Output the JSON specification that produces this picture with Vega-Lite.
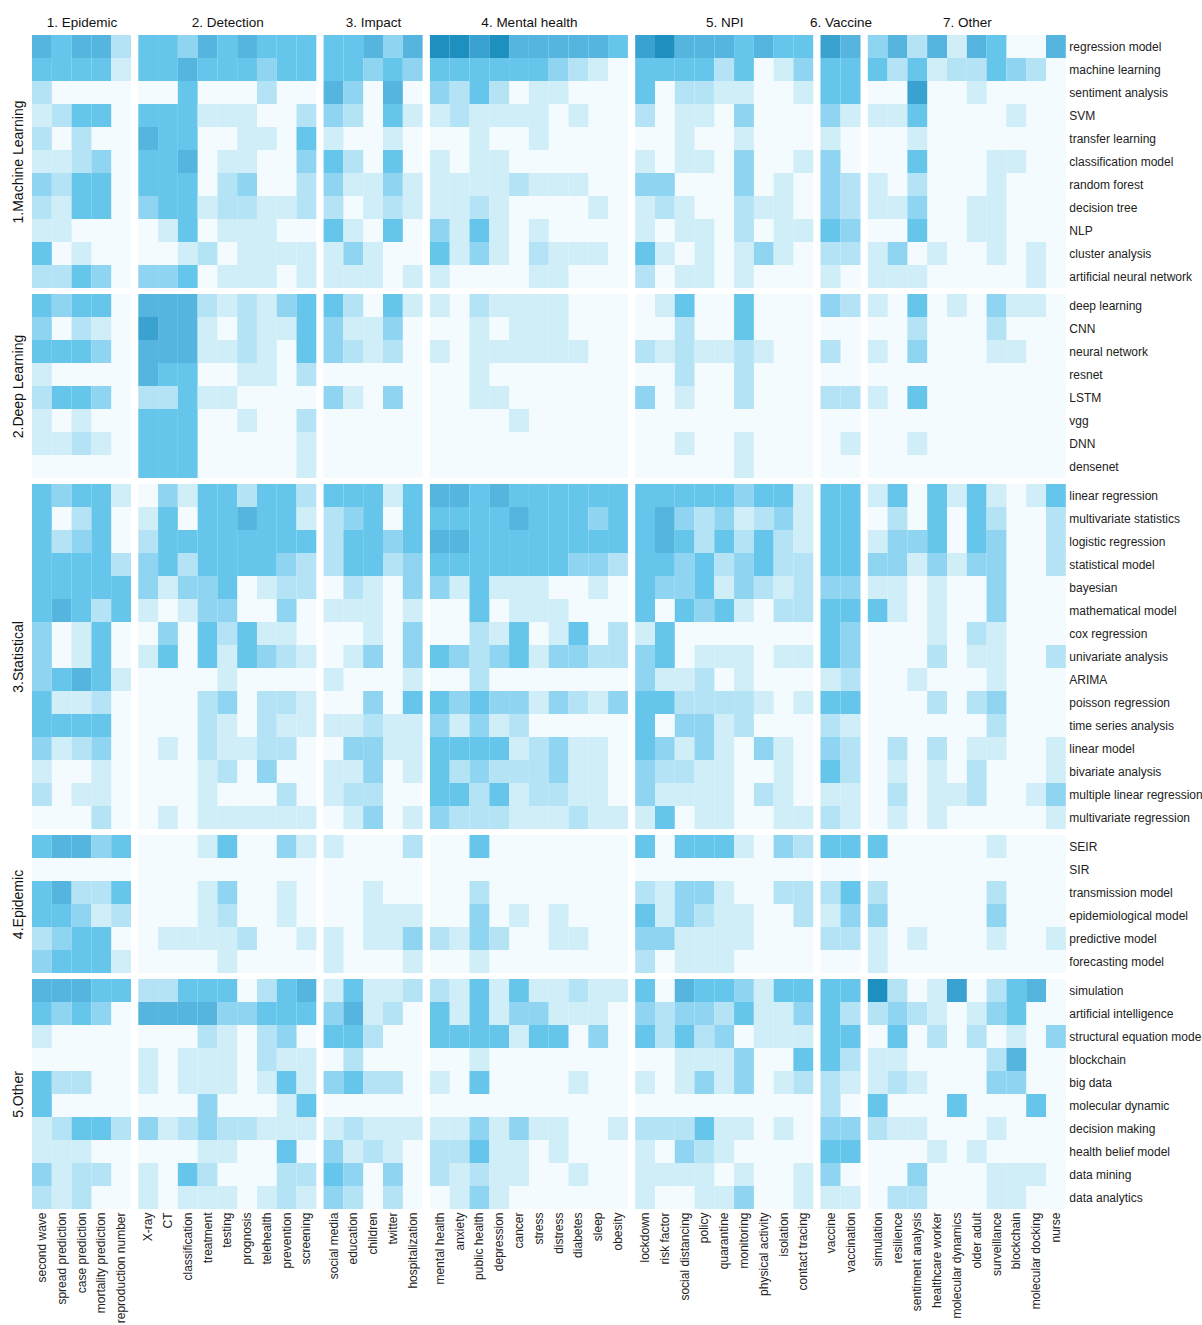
{"$schema":"https://vega.github.io/schema/vega-lite/v6.json","padding":{"left":11,"top":15,"right":0,"bottom":0},"background":"white","bounds":"flush","align":"each","columns":7,"spacing":{"row":6,"column":7.3},"config":{"view":{"fill":"#f3fbfe","stroke":null},"axis":{"domain":false,"ticks":false,"grid":false,"labelFont":"Liberation Sans","titleFont":"Liberation Sans","labelFontSize":12,"titleFontWeight":"normal","labelPadding":3,"labelColor":"#222","titleColor":"#111","labelLimit":200},"axisTop":{"titleFontSize":13.5,"titlePadding":6},"axisLeft":{"titleFontSize":14,"titlePadding":7},"legend":{"disable":true},"range":{"ordinal":["#cfeef8","#b5e3f6","#8fd4f0","#66c5ea","#55b5de","#3aa2d0","#1e90bf"]}},"datasets":{"models":[{"i":0,"model":"regression model","h":1},{"i":1,"model":"machine learning","h":1},{"i":2,"model":"sentiment analysis","h":1},{"i":3,"model":"SVM","h":1},{"i":4,"model":"transfer learning","h":1},{"i":5,"model":"classification model","h":1},{"i":6,"model":"random forest","h":1},{"i":7,"model":"decision tree","h":1},{"i":8,"model":"NLP","h":1},{"i":9,"model":"cluster analysis","h":1},{"i":10,"model":"artificial neural network","h":1},{"i":11,"model":"deep learning","h":2},{"i":12,"model":"CNN","h":2},{"i":13,"model":"neural network","h":2},{"i":14,"model":"resnet","h":2},{"i":15,"model":"LSTM","h":2},{"i":16,"model":"vgg","h":2},{"i":17,"model":"DNN","h":2},{"i":18,"model":"densenet","h":2},{"i":19,"model":"linear regression","h":3},{"i":20,"model":"multivariate statistics","h":3},{"i":21,"model":"logistic regression","h":3},{"i":22,"model":"statistical model","h":3},{"i":23,"model":"bayesian","h":3},{"i":24,"model":"mathematical model","h":3},{"i":25,"model":"cox regression","h":3},{"i":26,"model":"univariate analysis","h":3},{"i":27,"model":"ARIMA","h":3},{"i":28,"model":"poisson regression","h":3},{"i":29,"model":"time series analysis","h":3},{"i":30,"model":"linear model","h":3},{"i":31,"model":"bivariate analysis","h":3},{"i":32,"model":"multiple linear regression","h":3},{"i":33,"model":"multivariate regression","h":3},{"i":34,"model":"SEIR","h":4},{"i":35,"model":"SIR","h":4},{"i":36,"model":"transmission model","h":4},{"i":37,"model":"epidemiological model","h":4},{"i":38,"model":"predictive model","h":4},{"i":39,"model":"forecasting model","h":4},{"i":40,"model":"simulation","h":5},{"i":41,"model":"artificial intelligence","h":5},{"i":42,"model":"structural equation model","h":5},{"i":43,"model":"blockchain","h":5},{"i":44,"model":"big data","h":5},{"i":45,"model":"molecular dynamic","h":5},{"i":46,"model":"decision making","h":5},{"i":47,"model":"health belief model","h":5},{"i":48,"model":"data mining","h":5},{"i":49,"model":"data analytics","h":5}],"terms":[{"j":0,"term":"second wave","g":1},{"j":1,"term":"spread prediction","g":1},{"j":2,"term":"case prediction","g":1},{"j":3,"term":"mortality prediction","g":1},{"j":4,"term":"reproduction number","g":1},{"j":5,"term":"X-ray","g":2},{"j":6,"term":"CT","g":2},{"j":7,"term":"classification","g":2},{"j":8,"term":"treatment","g":2},{"j":9,"term":"testing","g":2},{"j":10,"term":"prognosis","g":2},{"j":11,"term":"telehealth","g":2},{"j":12,"term":"prevention","g":2},{"j":13,"term":"screening","g":2},{"j":14,"term":"social media","g":3},{"j":15,"term":"education","g":3},{"j":16,"term":"children","g":3},{"j":17,"term":"twitter","g":3},{"j":18,"term":"hospitalization","g":3},{"j":19,"term":"mental health","g":4},{"j":20,"term":"anxiety","g":4},{"j":21,"term":"public health","g":4},{"j":22,"term":"depression","g":4},{"j":23,"term":"cancer","g":4},{"j":24,"term":"stress","g":4},{"j":25,"term":"distress","g":4},{"j":26,"term":"diabetes","g":4},{"j":27,"term":"sleep","g":4},{"j":28,"term":"obesity","g":4},{"j":29,"term":"lockdown","g":5},{"j":30,"term":"risk factor","g":5},{"j":31,"term":"social distancing","g":5},{"j":32,"term":"policy","g":5},{"j":33,"term":"quarantine","g":5},{"j":34,"term":"monitoring","g":5},{"j":35,"term":"physical activity","g":5},{"j":36,"term":"isolation","g":5},{"j":37,"term":"contact tracing","g":5},{"j":38,"term":"vaccine","g":6},{"j":39,"term":"vaccination","g":6},{"j":40,"term":"simulation","g":7},{"j":41,"term":"resilience","g":7},{"j":42,"term":"sentiment analysis","g":7},{"j":43,"term":"healthcare worker","g":7},{"j":44,"term":"molecular dynamics","g":7},{"j":45,"term":"older adult","g":7},{"j":46,"term":"surveillance","g":7},{"j":47,"term":"blockchain","g":7},{"j":48,"term":"molecular docking","g":7},{"j":49,"term":"nurse","g":7}]},"data":{"values":[
{"i":0,"j":0,"v":5},{"i":0,"j":1,"v":4},{"i":0,"j":2,"v":5},{"i":0,"j":3,"v":5},{"i":0,"j":4,"v":2},{"i":0,"j":5,"v":4},{"i":0,"j":6,"v":4},{"i":0,"j":7,"v":3},{"i":0,"j":8,"v":5},{"i":0,"j":9,"v":4},{"i":0,"j":10,"v":5},{"i":0,"j":11,"v":4},{"i":0,"j":12,"v":4},{"i":0,"j":13,"v":4},{"i":0,"j":14,"v":4},{"i":0,"j":15,"v":4},{"i":0,"j":16,"v":5},{"i":0,"j":17,"v":3},{"i":0,"j":18,"v":5},{"i":0,"j":19,"v":7},{"i":0,"j":20,"v":7},{"i":0,"j":21,"v":6},{"i":0,"j":22,"v":7},{"i":0,"j":23,"v":5},{"i":0,"j":24,"v":5},{"i":0,"j":25,"v":5},{"i":0,"j":26,"v":5},{"i":0,"j":27,"v":5},{"i":0,"j":28,"v":4},{"i":0,"j":29,"v":6},{"i":0,"j":30,"v":7},{"i":0,"j":31,"v":5},{"i":0,"j":32,"v":5},{"i":0,"j":33,"v":5},{"i":0,"j":34,"v":4},{"i":0,"j":35,"v":5},{"i":0,"j":36,"v":4},{"i":0,"j":37,"v":4},{"i":0,"j":38,"v":6},{"i":0,"j":39,"v":5},{"i":0,"j":40,"v":3},{"i":0,"j":41,"v":5},{"i":0,"j":42,"v":2},{"i":0,"j":43,"v":5},{"i":0,"j":44,"v":1},{"i":0,"j":45,"v":5},{"i":0,"j":46,"v":4},{"i":0,"j":49,"v":5},
{"i":1,"j":0,"v":4},{"i":1,"j":1,"v":4},{"i":1,"j":2,"v":4},{"i":1,"j":3,"v":4},{"i":1,"j":4,"v":1},{"i":1,"j":5,"v":4},{"i":1,"j":6,"v":4},{"i":1,"j":7,"v":5},{"i":1,"j":8,"v":4},{"i":1,"j":9,"v":4},{"i":1,"j":10,"v":4},{"i":1,"j":11,"v":3},{"i":1,"j":12,"v":4},{"i":1,"j":13,"v":4},{"i":1,"j":14,"v":4},{"i":1,"j":15,"v":4},{"i":1,"j":16,"v":3},{"i":1,"j":17,"v":4},{"i":1,"j":18,"v":3},{"i":1,"j":19,"v":4},{"i":1,"j":20,"v":4},{"i":1,"j":21,"v":4},{"i":1,"j":22,"v":4},{"i":1,"j":23,"v":4},{"i":1,"j":24,"v":4},{"i":1,"j":25,"v":3},{"i":1,"j":26,"v":2},{"i":1,"j":27,"v":1},{"i":1,"j":29,"v":4},{"i":1,"j":30,"v":4},{"i":1,"j":31,"v":4},{"i":1,"j":32,"v":4},{"i":1,"j":33,"v":2},{"i":1,"j":34,"v":4},{"i":1,"j":36,"v":1},{"i":1,"j":37,"v":3},{"i":1,"j":38,"v":4},{"i":1,"j":39,"v":4},{"i":1,"j":40,"v":4},{"i":1,"j":41,"v":2},{"i":1,"j":42,"v":4},{"i":1,"j":43,"v":1},{"i":1,"j":44,"v":2},{"i":1,"j":45,"v":2},{"i":1,"j":46,"v":4},{"i":1,"j":47,"v":3},{"i":1,"j":48,"v":2},
{"i":2,"j":0,"v":2},{"i":2,"j":7,"v":4},{"i":2,"j":11,"v":2},{"i":2,"j":14,"v":5},{"i":2,"j":15,"v":3},{"i":2,"j":17,"v":5},{"i":2,"j":19,"v":3},{"i":2,"j":20,"v":2},{"i":2,"j":21,"v":4},{"i":2,"j":22,"v":2},{"i":2,"j":24,"v":1},{"i":2,"j":25,"v":1},{"i":2,"j":29,"v":4},{"i":2,"j":31,"v":2},{"i":2,"j":32,"v":2},{"i":2,"j":33,"v":1},{"i":2,"j":34,"v":1},{"i":2,"j":37,"v":1},{"i":2,"j":38,"v":4},{"i":2,"j":39,"v":4},{"i":2,"j":42,"v":6},{"i":2,"j":45,"v":1},
{"i":3,"j":0,"v":1},{"i":3,"j":1,"v":2},{"i":3,"j":2,"v":4},{"i":3,"j":3,"v":4},{"i":3,"j":5,"v":4},{"i":3,"j":6,"v":4},{"i":3,"j":7,"v":4},{"i":3,"j":8,"v":1},{"i":3,"j":9,"v":1},{"i":3,"j":10,"v":1},{"i":3,"j":13,"v":2},{"i":3,"j":14,"v":3},{"i":3,"j":15,"v":2},{"i":3,"j":17,"v":4},{"i":3,"j":18,"v":1},{"i":3,"j":19,"v":1},{"i":3,"j":20,"v":2},{"i":3,"j":21,"v":1},{"i":3,"j":22,"v":1},{"i":3,"j":23,"v":1},{"i":3,"j":24,"v":1},{"i":3,"j":26,"v":1},{"i":3,"j":29,"v":2},{"i":3,"j":31,"v":1},{"i":3,"j":32,"v":1},{"i":3,"j":34,"v":3},{"i":3,"j":38,"v":3},{"i":3,"j":39,"v":1},{"i":3,"j":40,"v":1},{"i":3,"j":41,"v":1},{"i":3,"j":42,"v":4},{"i":3,"j":47,"v":1},
{"i":4,"j":0,"v":2},{"i":4,"j":2,"v":2},{"i":4,"j":5,"v":5},{"i":4,"j":6,"v":4},{"i":4,"j":7,"v":4},{"i":4,"j":10,"v":1},{"i":4,"j":11,"v":1},{"i":4,"j":13,"v":4},{"i":4,"j":14,"v":1},{"i":4,"j":17,"v":1},{"i":4,"j":21,"v":1},{"i":4,"j":24,"v":1},{"i":4,"j":31,"v":1},{"i":4,"j":34,"v":1},{"i":4,"j":38,"v":1},{"i":4,"j":42,"v":1},
{"i":5,"j":0,"v":1},{"i":5,"j":1,"v":1},{"i":5,"j":2,"v":2},{"i":5,"j":3,"v":3},{"i":5,"j":5,"v":4},{"i":5,"j":6,"v":4},{"i":5,"j":7,"v":5},{"i":5,"j":9,"v":1},{"i":5,"j":10,"v":1},{"i":5,"j":13,"v":3},{"i":5,"j":14,"v":4},{"i":5,"j":15,"v":2},{"i":5,"j":17,"v":4},{"i":5,"j":19,"v":1},{"i":5,"j":21,"v":1},{"i":5,"j":22,"v":1},{"i":5,"j":29,"v":1},{"i":5,"j":31,"v":1},{"i":5,"j":32,"v":1},{"i":5,"j":34,"v":3},{"i":5,"j":37,"v":1},{"i":5,"j":38,"v":3},{"i":5,"j":42,"v":4},{"i":5,"j":46,"v":1},{"i":5,"j":47,"v":1},
{"i":6,"j":0,"v":3},{"i":6,"j":1,"v":2},{"i":6,"j":2,"v":4},{"i":6,"j":3,"v":4},{"i":6,"j":5,"v":4},{"i":6,"j":6,"v":4},{"i":6,"j":7,"v":4},{"i":6,"j":9,"v":2},{"i":6,"j":10,"v":3},{"i":6,"j":13,"v":2},{"i":6,"j":14,"v":3},{"i":6,"j":15,"v":1},{"i":6,"j":16,"v":1},{"i":6,"j":17,"v":3},{"i":6,"j":18,"v":1},{"i":6,"j":19,"v":1},{"i":6,"j":20,"v":1},{"i":6,"j":21,"v":1},{"i":6,"j":22,"v":1},{"i":6,"j":23,"v":2},{"i":6,"j":24,"v":1},{"i":6,"j":25,"v":1},{"i":6,"j":26,"v":1},{"i":6,"j":29,"v":3},{"i":6,"j":30,"v":3},{"i":6,"j":34,"v":3},{"i":6,"j":36,"v":1},{"i":6,"j":38,"v":3},{"i":6,"j":39,"v":2},{"i":6,"j":40,"v":1},{"i":6,"j":42,"v":2},{"i":6,"j":46,"v":1},
{"i":7,"j":0,"v":2},{"i":7,"j":1,"v":1},{"i":7,"j":2,"v":4},{"i":7,"j":3,"v":4},{"i":7,"j":5,"v":3},{"i":7,"j":6,"v":4},{"i":7,"j":7,"v":4},{"i":7,"j":8,"v":1},{"i":7,"j":9,"v":2},{"i":7,"j":10,"v":2},{"i":7,"j":11,"v":1},{"i":7,"j":12,"v":1},{"i":7,"j":13,"v":2},{"i":7,"j":14,"v":2},{"i":7,"j":16,"v":1},{"i":7,"j":17,"v":2},{"i":7,"j":18,"v":1},{"i":7,"j":19,"v":1},{"i":7,"j":20,"v":1},{"i":7,"j":21,"v":2},{"i":7,"j":22,"v":1},{"i":7,"j":27,"v":1},{"i":7,"j":29,"v":1},{"i":7,"j":30,"v":2},{"i":7,"j":31,"v":1},{"i":7,"j":34,"v":2},{"i":7,"j":35,"v":1},{"i":7,"j":36,"v":1},{"i":7,"j":38,"v":3},{"i":7,"j":39,"v":2},{"i":7,"j":40,"v":1},{"i":7,"j":41,"v":1},{"i":7,"j":42,"v":3},{"i":7,"j":45,"v":1},{"i":7,"j":46,"v":1},
{"i":8,"j":0,"v":1},{"i":8,"j":1,"v":1},{"i":8,"j":6,"v":1},{"i":8,"j":7,"v":4},{"i":8,"j":9,"v":1},{"i":8,"j":10,"v":1},{"i":8,"j":11,"v":1},{"i":8,"j":14,"v":4},{"i":8,"j":15,"v":1},{"i":8,"j":17,"v":4},{"i":8,"j":19,"v":3},{"i":8,"j":20,"v":1},{"i":8,"j":21,"v":4},{"i":8,"j":22,"v":1},{"i":8,"j":24,"v":1},{"i":8,"j":29,"v":1},{"i":8,"j":31,"v":1},{"i":8,"j":32,"v":1},{"i":8,"j":34,"v":2},{"i":8,"j":36,"v":1},{"i":8,"j":37,"v":1},{"i":8,"j":38,"v":4},{"i":8,"j":39,"v":3},{"i":8,"j":42,"v":4},{"i":8,"j":45,"v":1},{"i":8,"j":46,"v":1},
{"i":9,"j":0,"v":4},{"i":9,"j":2,"v":1},{"i":9,"j":7,"v":1},{"i":9,"j":8,"v":2},{"i":9,"j":10,"v":1},{"i":9,"j":11,"v":1},{"i":9,"j":12,"v":1},{"i":9,"j":13,"v":1},{"i":9,"j":14,"v":1},{"i":9,"j":15,"v":3},{"i":9,"j":16,"v":1},{"i":9,"j":19,"v":4},{"i":9,"j":20,"v":1},{"i":9,"j":21,"v":3},{"i":9,"j":22,"v":1},{"i":9,"j":24,"v":2},{"i":9,"j":25,"v":1},{"i":9,"j":26,"v":1},{"i":9,"j":27,"v":1},{"i":9,"j":29,"v":4},{"i":9,"j":30,"v":1},{"i":9,"j":32,"v":1},{"i":9,"j":34,"v":1},{"i":9,"j":35,"v":3},{"i":9,"j":36,"v":1},{"i":9,"j":38,"v":2},{"i":9,"j":39,"v":2},{"i":9,"j":40,"v":1},{"i":9,"j":41,"v":3},{"i":9,"j":43,"v":1},{"i":9,"j":46,"v":1},{"i":9,"j":48,"v":1},
{"i":10,"j":0,"v":2},{"i":10,"j":1,"v":2},{"i":10,"j":2,"v":4},{"i":10,"j":3,"v":3},{"i":10,"j":5,"v":3},{"i":10,"j":6,"v":3},{"i":10,"j":7,"v":4},{"i":10,"j":9,"v":1},{"i":10,"j":10,"v":1},{"i":10,"j":11,"v":1},{"i":10,"j":13,"v":1},{"i":10,"j":14,"v":1},{"i":10,"j":15,"v":1},{"i":10,"j":16,"v":1},{"i":10,"j":18,"v":1},{"i":10,"j":19,"v":1},{"i":10,"j":24,"v":1},{"i":10,"j":25,"v":1},{"i":10,"j":29,"v":2},{"i":10,"j":31,"v":1},{"i":10,"j":32,"v":1},{"i":10,"j":34,"v":1},{"i":10,"j":38,"v":1},{"i":10,"j":40,"v":1},{"i":10,"j":41,"v":1},{"i":10,"j":42,"v":1},{"i":10,"j":48,"v":1},
{"i":11,"j":0,"v":4},{"i":11,"j":1,"v":3},{"i":11,"j":2,"v":4},{"i":11,"j":3,"v":4},{"i":11,"j":5,"v":5},{"i":11,"j":6,"v":5},{"i":11,"j":7,"v":5},{"i":11,"j":8,"v":2},{"i":11,"j":9,"v":1},{"i":11,"j":10,"v":2},{"i":11,"j":11,"v":1},{"i":11,"j":12,"v":3},{"i":11,"j":13,"v":4},{"i":11,"j":14,"v":4},{"i":11,"j":15,"v":2},{"i":11,"j":17,"v":4},{"i":11,"j":18,"v":1},{"i":11,"j":19,"v":1},{"i":11,"j":21,"v":2},{"i":11,"j":22,"v":1},{"i":11,"j":23,"v":1},{"i":11,"j":24,"v":1},{"i":11,"j":25,"v":1},{"i":11,"j":30,"v":1},{"i":11,"j":31,"v":4},{"i":11,"j":34,"v":4},{"i":11,"j":38,"v":3},{"i":11,"j":39,"v":2},{"i":11,"j":40,"v":1},{"i":11,"j":42,"v":4},{"i":11,"j":44,"v":1},{"i":11,"j":46,"v":3},{"i":11,"j":47,"v":1},{"i":11,"j":48,"v":1},
{"i":12,"j":0,"v":3},{"i":12,"j":2,"v":2},{"i":12,"j":3,"v":1},{"i":12,"j":5,"v":6},{"i":12,"j":6,"v":5},{"i":12,"j":7,"v":5},{"i":12,"j":8,"v":1},{"i":12,"j":10,"v":2},{"i":12,"j":11,"v":1},{"i":12,"j":12,"v":1},{"i":12,"j":13,"v":4},{"i":12,"j":14,"v":3},{"i":12,"j":15,"v":1},{"i":12,"j":16,"v":1},{"i":12,"j":17,"v":3},{"i":12,"j":21,"v":1},{"i":12,"j":23,"v":1},{"i":12,"j":24,"v":1},{"i":12,"j":25,"v":1},{"i":12,"j":31,"v":2},{"i":12,"j":34,"v":4},{"i":12,"j":42,"v":2},{"i":12,"j":46,"v":2},
{"i":13,"j":0,"v":4},{"i":13,"j":1,"v":4},{"i":13,"j":2,"v":4},{"i":13,"j":3,"v":3},{"i":13,"j":5,"v":5},{"i":13,"j":6,"v":5},{"i":13,"j":7,"v":5},{"i":13,"j":8,"v":1},{"i":13,"j":9,"v":1},{"i":13,"j":10,"v":2},{"i":13,"j":11,"v":1},{"i":13,"j":13,"v":4},{"i":13,"j":14,"v":3},{"i":13,"j":15,"v":2},{"i":13,"j":16,"v":1},{"i":13,"j":17,"v":2},{"i":13,"j":19,"v":1},{"i":13,"j":21,"v":1},{"i":13,"j":22,"v":1},{"i":13,"j":23,"v":1},{"i":13,"j":24,"v":1},{"i":13,"j":25,"v":1},{"i":13,"j":26,"v":1},{"i":13,"j":29,"v":2},{"i":13,"j":30,"v":1},{"i":13,"j":31,"v":2},{"i":13,"j":32,"v":1},{"i":13,"j":33,"v":1},{"i":13,"j":34,"v":2},{"i":13,"j":35,"v":1},{"i":13,"j":38,"v":2},{"i":13,"j":40,"v":1},{"i":13,"j":42,"v":3},{"i":13,"j":46,"v":1},{"i":13,"j":47,"v":1},
{"i":14,"j":0,"v":1},{"i":14,"j":5,"v":5},{"i":14,"j":6,"v":4},{"i":14,"j":7,"v":4},{"i":14,"j":10,"v":1},{"i":14,"j":11,"v":1},{"i":14,"j":13,"v":2},{"i":14,"j":21,"v":1},{"i":14,"j":31,"v":2},{"i":14,"j":34,"v":2},
{"i":15,"j":0,"v":2},{"i":15,"j":1,"v":4},{"i":15,"j":2,"v":4},{"i":15,"j":3,"v":3},{"i":15,"j":5,"v":2},{"i":15,"j":6,"v":2},{"i":15,"j":7,"v":4},{"i":15,"j":8,"v":1},{"i":15,"j":9,"v":1},{"i":15,"j":14,"v":3},{"i":15,"j":15,"v":1},{"i":15,"j":17,"v":3},{"i":15,"j":21,"v":1},{"i":15,"j":22,"v":1},{"i":15,"j":29,"v":3},{"i":15,"j":31,"v":1},{"i":15,"j":34,"v":2},{"i":15,"j":38,"v":2},{"i":15,"j":39,"v":2},{"i":15,"j":40,"v":1},{"i":15,"j":42,"v":4},
{"i":16,"j":0,"v":1},{"i":16,"j":2,"v":1},{"i":16,"j":5,"v":4},{"i":16,"j":6,"v":4},{"i":16,"j":7,"v":4},{"i":16,"j":10,"v":1},{"i":16,"j":13,"v":2},{"i":16,"j":23,"v":1},
{"i":17,"j":0,"v":1},{"i":17,"j":1,"v":1},{"i":17,"j":2,"v":2},{"i":17,"j":3,"v":1},{"i":17,"j":5,"v":4},{"i":17,"j":6,"v":4},{"i":17,"j":7,"v":4},{"i":17,"j":13,"v":1},{"i":17,"j":31,"v":1},{"i":17,"j":34,"v":1},{"i":17,"j":39,"v":1},{"i":17,"j":42,"v":1},
{"i":18,"j":5,"v":4},{"i":18,"j":6,"v":4},{"i":18,"j":7,"v":4},{"i":18,"j":13,"v":1},{"i":18,"j":34,"v":1},
{"i":19,"j":0,"v":4},{"i":19,"j":1,"v":3},{"i":19,"j":2,"v":4},{"i":19,"j":3,"v":4},{"i":19,"j":4,"v":1},{"i":19,"j":6,"v":3},{"i":19,"j":7,"v":1},{"i":19,"j":8,"v":4},{"i":19,"j":9,"v":4},{"i":19,"j":10,"v":2},{"i":19,"j":11,"v":4},{"i":19,"j":12,"v":4},{"i":19,"j":13,"v":2},{"i":19,"j":14,"v":4},{"i":19,"j":15,"v":4},{"i":19,"j":16,"v":4},{"i":19,"j":17,"v":1},{"i":19,"j":18,"v":4},{"i":19,"j":19,"v":5},{"i":19,"j":20,"v":5},{"i":19,"j":21,"v":4},{"i":19,"j":22,"v":5},{"i":19,"j":23,"v":4},{"i":19,"j":24,"v":4},{"i":19,"j":25,"v":4},{"i":19,"j":26,"v":4},{"i":19,"j":27,"v":4},{"i":19,"j":28,"v":4},{"i":19,"j":29,"v":4},{"i":19,"j":30,"v":4},{"i":19,"j":31,"v":4},{"i":19,"j":32,"v":4},{"i":19,"j":33,"v":4},{"i":19,"j":34,"v":3},{"i":19,"j":35,"v":4},{"i":19,"j":36,"v":4},{"i":19,"j":37,"v":1},{"i":19,"j":38,"v":4},{"i":19,"j":39,"v":4},{"i":19,"j":40,"v":1},{"i":19,"j":41,"v":4},{"i":19,"j":43,"v":4},{"i":19,"j":44,"v":1},{"i":19,"j":45,"v":4},{"i":19,"j":46,"v":1},{"i":19,"j":48,"v":1},{"i":19,"j":49,"v":4},
{"i":20,"j":0,"v":4},{"i":20,"j":2,"v":2},{"i":20,"j":3,"v":4},{"i":20,"j":5,"v":1},{"i":20,"j":6,"v":4},{"i":20,"j":8,"v":4},{"i":20,"j":9,"v":4},{"i":20,"j":10,"v":5},{"i":20,"j":11,"v":4},{"i":20,"j":12,"v":4},{"i":20,"j":13,"v":1},{"i":20,"j":14,"v":2},{"i":20,"j":15,"v":3},{"i":20,"j":16,"v":4},{"i":20,"j":18,"v":4},{"i":20,"j":19,"v":4},{"i":20,"j":20,"v":4},{"i":20,"j":21,"v":4},{"i":20,"j":22,"v":4},{"i":20,"j":23,"v":5},{"i":20,"j":24,"v":4},{"i":20,"j":25,"v":4},{"i":20,"j":26,"v":4},{"i":20,"j":27,"v":3},{"i":20,"j":28,"v":4},{"i":20,"j":29,"v":4},{"i":20,"j":30,"v":5},{"i":20,"j":31,"v":3},{"i":20,"j":32,"v":2},{"i":20,"j":33,"v":3},{"i":20,"j":34,"v":1},{"i":20,"j":35,"v":2},{"i":20,"j":36,"v":3},{"i":20,"j":37,"v":1},{"i":20,"j":38,"v":4},{"i":20,"j":39,"v":4},{"i":20,"j":41,"v":2},{"i":20,"j":43,"v":4},{"i":20,"j":45,"v":4},{"i":20,"j":46,"v":2},{"i":20,"j":49,"v":2},
{"i":21,"j":0,"v":4},{"i":21,"j":1,"v":2},{"i":21,"j":2,"v":3},{"i":21,"j":3,"v":4},{"i":21,"j":5,"v":2},{"i":21,"j":6,"v":4},{"i":21,"j":7,"v":4},{"i":21,"j":8,"v":4},{"i":21,"j":9,"v":4},{"i":21,"j":10,"v":4},{"i":21,"j":11,"v":4},{"i":21,"j":12,"v":4},{"i":21,"j":13,"v":4},{"i":21,"j":14,"v":2},{"i":21,"j":15,"v":4},{"i":21,"j":16,"v":4},{"i":21,"j":17,"v":3},{"i":21,"j":18,"v":4},{"i":21,"j":19,"v":5},{"i":21,"j":20,"v":5},{"i":21,"j":21,"v":4},{"i":21,"j":22,"v":4},{"i":21,"j":23,"v":4},{"i":21,"j":24,"v":4},{"i":21,"j":25,"v":4},{"i":21,"j":26,"v":4},{"i":21,"j":27,"v":4},{"i":21,"j":28,"v":4},{"i":21,"j":29,"v":4},{"i":21,"j":30,"v":5},{"i":21,"j":31,"v":4},{"i":21,"j":32,"v":2},{"i":21,"j":33,"v":4},{"i":21,"j":34,"v":2},{"i":21,"j":35,"v":4},{"i":21,"j":36,"v":2},{"i":21,"j":37,"v":1},{"i":21,"j":38,"v":4},{"i":21,"j":39,"v":4},{"i":21,"j":40,"v":1},{"i":21,"j":41,"v":3},{"i":21,"j":42,"v":3},{"i":21,"j":43,"v":4},{"i":21,"j":45,"v":4},{"i":21,"j":46,"v":3},{"i":21,"j":49,"v":2},
{"i":22,"j":0,"v":4},{"i":22,"j":1,"v":4},{"i":22,"j":2,"v":4},{"i":22,"j":3,"v":4},{"i":22,"j":4,"v":2},{"i":22,"j":5,"v":3},{"i":22,"j":6,"v":4},{"i":22,"j":7,"v":2},{"i":22,"j":8,"v":4},{"i":22,"j":9,"v":4},{"i":22,"j":10,"v":4},{"i":22,"j":11,"v":4},{"i":22,"j":12,"v":3},{"i":22,"j":13,"v":2},{"i":22,"j":14,"v":2},{"i":22,"j":15,"v":4},{"i":22,"j":16,"v":4},{"i":22,"j":17,"v":2},{"i":22,"j":18,"v":3},{"i":22,"j":19,"v":4},{"i":22,"j":20,"v":4},{"i":22,"j":21,"v":4},{"i":22,"j":22,"v":4},{"i":22,"j":23,"v":4},{"i":22,"j":24,"v":4},{"i":22,"j":25,"v":4},{"i":22,"j":26,"v":3},{"i":22,"j":27,"v":3},{"i":22,"j":28,"v":2},{"i":22,"j":29,"v":4},{"i":22,"j":30,"v":4},{"i":22,"j":31,"v":3},{"i":22,"j":32,"v":4},{"i":22,"j":33,"v":2},{"i":22,"j":34,"v":3},{"i":22,"j":35,"v":4},{"i":22,"j":36,"v":2},{"i":22,"j":37,"v":2},{"i":22,"j":38,"v":4},{"i":22,"j":39,"v":4},{"i":22,"j":40,"v":3},{"i":22,"j":41,"v":3},{"i":22,"j":42,"v":1},{"i":22,"j":43,"v":3},{"i":22,"j":44,"v":1},{"i":22,"j":45,"v":3},{"i":22,"j":46,"v":3},{"i":22,"j":49,"v":2},
{"i":23,"j":0,"v":4},{"i":23,"j":1,"v":4},{"i":23,"j":2,"v":4},{"i":23,"j":3,"v":4},{"i":23,"j":4,"v":4},{"i":23,"j":5,"v":3},{"i":23,"j":6,"v":1},{"i":23,"j":7,"v":3},{"i":23,"j":8,"v":3},{"i":23,"j":9,"v":4},{"i":23,"j":11,"v":1},{"i":23,"j":12,"v":2},{"i":23,"j":13,"v":2},{"i":23,"j":15,"v":2},{"i":23,"j":16,"v":1},{"i":23,"j":18,"v":3},{"i":23,"j":19,"v":3},{"i":23,"j":20,"v":1},{"i":23,"j":21,"v":4},{"i":23,"j":22,"v":1},{"i":23,"j":23,"v":1},{"i":23,"j":24,"v":1},{"i":23,"j":27,"v":1},{"i":23,"j":29,"v":4},{"i":23,"j":30,"v":3},{"i":23,"j":31,"v":3},{"i":23,"j":32,"v":4},{"i":23,"j":33,"v":1},{"i":23,"j":34,"v":3},{"i":23,"j":35,"v":2},{"i":23,"j":36,"v":1},{"i":23,"j":37,"v":2},{"i":23,"j":38,"v":3},{"i":23,"j":39,"v":3},{"i":23,"j":40,"v":1},{"i":23,"j":41,"v":1},{"i":23,"j":43,"v":1},{"i":23,"j":46,"v":3},
{"i":24,"j":0,"v":4},{"i":24,"j":1,"v":5},{"i":24,"j":2,"v":4},{"i":24,"j":3,"v":2},{"i":24,"j":4,"v":4},{"i":24,"j":5,"v":1},{"i":24,"j":7,"v":1},{"i":24,"j":8,"v":3},{"i":24,"j":9,"v":3},{"i":24,"j":12,"v":3},{"i":24,"j":14,"v":1},{"i":24,"j":15,"v":1},{"i":24,"j":16,"v":1},{"i":24,"j":18,"v":1},{"i":24,"j":21,"v":4},{"i":24,"j":23,"v":1},{"i":24,"j":24,"v":1},{"i":24,"j":25,"v":1},{"i":24,"j":29,"v":4},{"i":24,"j":31,"v":4},{"i":24,"j":32,"v":3},{"i":24,"j":33,"v":4},{"i":24,"j":34,"v":1},{"i":24,"j":36,"v":2},{"i":24,"j":37,"v":2},{"i":24,"j":38,"v":4},{"i":24,"j":39,"v":4},{"i":24,"j":40,"v":4},{"i":24,"j":41,"v":1},{"i":24,"j":43,"v":1},{"i":24,"j":46,"v":3},
{"i":25,"j":0,"v":3},{"i":25,"j":2,"v":1},{"i":25,"j":3,"v":4},{"i":25,"j":6,"v":3},{"i":25,"j":8,"v":4},{"i":25,"j":9,"v":2},{"i":25,"j":10,"v":4},{"i":25,"j":11,"v":1},{"i":25,"j":12,"v":1},{"i":25,"j":16,"v":1},{"i":25,"j":18,"v":3},{"i":25,"j":21,"v":2},{"i":25,"j":22,"v":1},{"i":25,"j":23,"v":4},{"i":25,"j":25,"v":1},{"i":25,"j":26,"v":4},{"i":25,"j":28,"v":2},{"i":25,"j":29,"v":1},{"i":25,"j":30,"v":4},{"i":25,"j":38,"v":4},{"i":25,"j":39,"v":3},{"i":25,"j":43,"v":1},{"i":25,"j":45,"v":2},{"i":25,"j":46,"v":1},
{"i":26,"j":0,"v":3},{"i":26,"j":2,"v":1},{"i":26,"j":3,"v":4},{"i":26,"j":5,"v":1},{"i":26,"j":6,"v":4},{"i":26,"j":8,"v":4},{"i":26,"j":9,"v":1},{"i":26,"j":10,"v":4},{"i":26,"j":11,"v":3},{"i":26,"j":12,"v":2},{"i":26,"j":13,"v":1},{"i":26,"j":15,"v":1},{"i":26,"j":16,"v":3},{"i":26,"j":18,"v":3},{"i":26,"j":19,"v":4},{"i":26,"j":20,"v":3},{"i":26,"j":21,"v":2},{"i":26,"j":22,"v":3},{"i":26,"j":23,"v":4},{"i":26,"j":24,"v":1},{"i":26,"j":25,"v":3},{"i":26,"j":26,"v":3},{"i":26,"j":27,"v":2},{"i":26,"j":28,"v":2},{"i":26,"j":29,"v":3},{"i":26,"j":30,"v":4},{"i":26,"j":32,"v":1},{"i":26,"j":33,"v":1},{"i":26,"j":34,"v":1},{"i":26,"j":36,"v":1},{"i":26,"j":37,"v":1},{"i":26,"j":38,"v":4},{"i":26,"j":39,"v":3},{"i":26,"j":43,"v":2},{"i":26,"j":45,"v":1},{"i":26,"j":46,"v":1},{"i":26,"j":49,"v":2},
{"i":27,"j":0,"v":3},{"i":27,"j":1,"v":4},{"i":27,"j":2,"v":5},{"i":27,"j":3,"v":4},{"i":27,"j":4,"v":1},{"i":27,"j":9,"v":1},{"i":27,"j":14,"v":1},{"i":27,"j":18,"v":1},{"i":27,"j":21,"v":2},{"i":27,"j":29,"v":3},{"i":27,"j":30,"v":1},{"i":27,"j":31,"v":1},{"i":27,"j":32,"v":2},{"i":27,"j":34,"v":1},{"i":27,"j":38,"v":1},{"i":27,"j":39,"v":2},{"i":27,"j":42,"v":1},{"i":27,"j":46,"v":1},
{"i":28,"j":0,"v":4},{"i":28,"j":1,"v":1},{"i":28,"j":2,"v":1},{"i":28,"j":3,"v":2},{"i":28,"j":8,"v":2},{"i":28,"j":9,"v":3},{"i":28,"j":11,"v":2},{"i":28,"j":12,"v":2},{"i":28,"j":13,"v":1},{"i":28,"j":16,"v":3},{"i":28,"j":18,"v":4},{"i":28,"j":19,"v":4},{"i":28,"j":20,"v":3},{"i":28,"j":21,"v":4},{"i":28,"j":22,"v":3},{"i":28,"j":23,"v":3},{"i":28,"j":24,"v":1},{"i":28,"j":25,"v":3},{"i":28,"j":26,"v":2},{"i":28,"j":27,"v":1},{"i":28,"j":28,"v":3},{"i":28,"j":29,"v":4},{"i":28,"j":30,"v":4},{"i":28,"j":31,"v":2},{"i":28,"j":32,"v":2},{"i":28,"j":33,"v":2},{"i":28,"j":34,"v":2},{"i":28,"j":35,"v":1},{"i":28,"j":37,"v":1},{"i":28,"j":38,"v":4},{"i":28,"j":39,"v":4},{"i":28,"j":43,"v":2},{"i":28,"j":45,"v":2},{"i":28,"j":46,"v":3},
{"i":29,"j":0,"v":4},{"i":29,"j":1,"v":4},{"i":29,"j":2,"v":4},{"i":29,"j":3,"v":4},{"i":29,"j":8,"v":2},{"i":29,"j":9,"v":1},{"i":29,"j":11,"v":2},{"i":29,"j":12,"v":1},{"i":29,"j":13,"v":1},{"i":29,"j":14,"v":1},{"i":29,"j":15,"v":1},{"i":29,"j":16,"v":2},{"i":29,"j":17,"v":1},{"i":29,"j":18,"v":1},{"i":29,"j":19,"v":3},{"i":29,"j":20,"v":1},{"i":29,"j":21,"v":3},{"i":29,"j":22,"v":1},{"i":29,"j":23,"v":2},{"i":29,"j":29,"v":4},{"i":29,"j":31,"v":3},{"i":29,"j":32,"v":3},{"i":29,"j":33,"v":1},{"i":29,"j":34,"v":2},{"i":29,"j":38,"v":2},{"i":29,"j":39,"v":1},{"i":29,"j":46,"v":2},
{"i":30,"j":0,"v":3},{"i":30,"j":1,"v":1},{"i":30,"j":2,"v":2},{"i":30,"j":3,"v":3},{"i":30,"j":6,"v":1},{"i":30,"j":8,"v":2},{"i":30,"j":9,"v":1},{"i":30,"j":10,"v":1},{"i":30,"j":11,"v":2},{"i":30,"j":12,"v":2},{"i":30,"j":15,"v":3},{"i":30,"j":16,"v":3},{"i":30,"j":17,"v":1},{"i":30,"j":18,"v":1},{"i":30,"j":19,"v":4},{"i":30,"j":20,"v":4},{"i":30,"j":21,"v":4},{"i":30,"j":22,"v":4},{"i":30,"j":23,"v":1},{"i":30,"j":24,"v":2},{"i":30,"j":25,"v":3},{"i":30,"j":26,"v":1},{"i":30,"j":27,"v":1},{"i":30,"j":29,"v":4},{"i":30,"j":30,"v":3},{"i":30,"j":31,"v":1},{"i":30,"j":32,"v":3},{"i":30,"j":33,"v":1},{"i":30,"j":35,"v":3},{"i":30,"j":36,"v":1},{"i":30,"j":38,"v":3},{"i":30,"j":39,"v":2},{"i":30,"j":41,"v":2},{"i":30,"j":43,"v":2},{"i":30,"j":45,"v":1},{"i":30,"j":46,"v":1},{"i":30,"j":49,"v":1},
{"i":31,"j":0,"v":1},{"i":31,"j":3,"v":1},{"i":31,"j":8,"v":1},{"i":31,"j":9,"v":2},{"i":31,"j":11,"v":3},{"i":31,"j":14,"v":1},{"i":31,"j":15,"v":1},{"i":31,"j":16,"v":3},{"i":31,"j":18,"v":1},{"i":31,"j":19,"v":4},{"i":31,"j":20,"v":2},{"i":31,"j":21,"v":3},{"i":31,"j":22,"v":2},{"i":31,"j":23,"v":2},{"i":31,"j":24,"v":2},{"i":31,"j":25,"v":3},{"i":31,"j":26,"v":1},{"i":31,"j":27,"v":1},{"i":31,"j":29,"v":3},{"i":31,"j":30,"v":2},{"i":31,"j":31,"v":2},{"i":31,"j":32,"v":1},{"i":31,"j":33,"v":1},{"i":31,"j":36,"v":1},{"i":31,"j":38,"v":4},{"i":31,"j":39,"v":2},{"i":31,"j":41,"v":1},{"i":31,"j":43,"v":1},{"i":31,"j":45,"v":2},{"i":31,"j":49,"v":1},
{"i":32,"j":0,"v":2},{"i":32,"j":2,"v":1},{"i":32,"j":3,"v":1},{"i":32,"j":8,"v":1},{"i":32,"j":12,"v":2},{"i":32,"j":14,"v":1},{"i":32,"j":15,"v":2},{"i":32,"j":16,"v":2},{"i":32,"j":19,"v":4},{"i":32,"j":20,"v":4},{"i":32,"j":21,"v":2},{"i":32,"j":22,"v":4},{"i":32,"j":23,"v":1},{"i":32,"j":24,"v":2},{"i":32,"j":25,"v":2},{"i":32,"j":26,"v":1},{"i":32,"j":27,"v":1},{"i":32,"j":29,"v":3},{"i":32,"j":30,"v":1},{"i":32,"j":31,"v":1},{"i":32,"j":32,"v":1},{"i":32,"j":33,"v":1},{"i":32,"j":35,"v":2},{"i":32,"j":36,"v":1},{"i":32,"j":38,"v":1},{"i":32,"j":39,"v":1},{"i":32,"j":41,"v":2},{"i":32,"j":43,"v":1},{"i":32,"j":44,"v":1},{"i":32,"j":45,"v":2},{"i":32,"j":48,"v":1},{"i":32,"j":49,"v":3},
{"i":33,"j":3,"v":2},{"i":33,"j":6,"v":1},{"i":33,"j":8,"v":1},{"i":33,"j":9,"v":1},{"i":33,"j":10,"v":1},{"i":33,"j":11,"v":1},{"i":33,"j":12,"v":1},{"i":33,"j":13,"v":1},{"i":33,"j":15,"v":1},{"i":33,"j":16,"v":3},{"i":33,"j":18,"v":1},{"i":33,"j":19,"v":3},{"i":33,"j":20,"v":2},{"i":33,"j":21,"v":2},{"i":33,"j":22,"v":2},{"i":33,"j":23,"v":1},{"i":33,"j":24,"v":1},{"i":33,"j":25,"v":1},{"i":33,"j":26,"v":2},{"i":33,"j":27,"v":1},{"i":33,"j":28,"v":1},{"i":33,"j":29,"v":1},{"i":33,"j":30,"v":4},{"i":33,"j":32,"v":1},{"i":33,"j":33,"v":1},{"i":33,"j":36,"v":1},{"i":33,"j":37,"v":1},{"i":33,"j":38,"v":2},{"i":33,"j":39,"v":1},{"i":33,"j":41,"v":1},{"i":33,"j":43,"v":1},{"i":33,"j":49,"v":1},
{"i":34,"j":0,"v":4},{"i":34,"j":1,"v":5},{"i":34,"j":2,"v":5},{"i":34,"j":3,"v":3},{"i":34,"j":4,"v":4},{"i":34,"j":8,"v":1},{"i":34,"j":9,"v":4},{"i":34,"j":12,"v":3},{"i":34,"j":13,"v":1},{"i":34,"j":14,"v":1},{"i":34,"j":18,"v":2},{"i":34,"j":21,"v":4},{"i":34,"j":29,"v":4},{"i":34,"j":31,"v":4},{"i":34,"j":32,"v":4},{"i":34,"j":33,"v":4},{"i":34,"j":34,"v":1},{"i":34,"j":36,"v":3},{"i":34,"j":37,"v":2},{"i":34,"j":38,"v":4},{"i":34,"j":39,"v":4},{"i":34,"j":40,"v":4},{"i":34,"j":46,"v":1},
{"i":36,"j":0,"v":4},{"i":36,"j":1,"v":5},{"i":36,"j":2,"v":2},{"i":36,"j":3,"v":2},{"i":36,"j":4,"v":4},{"i":36,"j":8,"v":1},{"i":36,"j":9,"v":3},{"i":36,"j":12,"v":1},{"i":36,"j":16,"v":1},{"i":36,"j":21,"v":2},{"i":36,"j":29,"v":2},{"i":36,"j":30,"v":1},{"i":36,"j":31,"v":3},{"i":36,"j":32,"v":3},{"i":36,"j":33,"v":1},{"i":36,"j":36,"v":2},{"i":36,"j":37,"v":2},{"i":36,"j":38,"v":2},{"i":36,"j":39,"v":4},{"i":36,"j":40,"v":2},{"i":36,"j":46,"v":2},
{"i":37,"j":0,"v":4},{"i":37,"j":1,"v":4},{"i":37,"j":2,"v":3},{"i":37,"j":3,"v":1},{"i":37,"j":4,"v":2},{"i":37,"j":8,"v":1},{"i":37,"j":9,"v":2},{"i":37,"j":12,"v":1},{"i":37,"j":16,"v":1},{"i":37,"j":17,"v":1},{"i":37,"j":18,"v":1},{"i":37,"j":21,"v":3},{"i":37,"j":23,"v":1},{"i":37,"j":25,"v":1},{"i":37,"j":29,"v":4},{"i":37,"j":30,"v":1},{"i":37,"j":31,"v":3},{"i":37,"j":32,"v":2},{"i":37,"j":33,"v":1},{"i":37,"j":34,"v":1},{"i":37,"j":37,"v":2},{"i":37,"j":38,"v":1},{"i":37,"j":39,"v":3},{"i":37,"j":40,"v":3},{"i":37,"j":46,"v":3},
{"i":38,"j":0,"v":2},{"i":38,"j":1,"v":3},{"i":38,"j":2,"v":4},{"i":38,"j":3,"v":4},{"i":38,"j":6,"v":1},{"i":38,"j":7,"v":1},{"i":38,"j":8,"v":1},{"i":38,"j":9,"v":1},{"i":38,"j":10,"v":2},{"i":38,"j":13,"v":1},{"i":38,"j":14,"v":1},{"i":38,"j":16,"v":1},{"i":38,"j":17,"v":1},{"i":38,"j":18,"v":3},{"i":38,"j":19,"v":2},{"i":38,"j":20,"v":1},{"i":38,"j":21,"v":3},{"i":38,"j":22,"v":2},{"i":38,"j":25,"v":1},{"i":38,"j":26,"v":1},{"i":38,"j":29,"v":3},{"i":38,"j":30,"v":3},{"i":38,"j":31,"v":1},{"i":38,"j":32,"v":1},{"i":38,"j":33,"v":1},{"i":38,"j":34,"v":1},{"i":38,"j":38,"v":2},{"i":38,"j":39,"v":2},{"i":38,"j":40,"v":1},{"i":38,"j":42,"v":1},{"i":38,"j":46,"v":1},{"i":38,"j":49,"v":1},
{"i":39,"j":0,"v":3},{"i":39,"j":1,"v":4},{"i":39,"j":2,"v":4},{"i":39,"j":3,"v":4},{"i":39,"j":4,"v":1},{"i":39,"j":9,"v":1},{"i":39,"j":14,"v":1},{"i":39,"j":18,"v":1},{"i":39,"j":21,"v":1},{"i":39,"j":29,"v":2},{"i":39,"j":31,"v":1},{"i":39,"j":32,"v":1},{"i":39,"j":33,"v":1},{"i":39,"j":40,"v":1},
{"i":40,"j":0,"v":5},{"i":40,"j":1,"v":5},{"i":40,"j":2,"v":5},{"i":40,"j":3,"v":4},{"i":40,"j":4,"v":4},{"i":40,"j":5,"v":2},{"i":40,"j":6,"v":2},{"i":40,"j":7,"v":4},{"i":40,"j":8,"v":4},{"i":40,"j":9,"v":4},{"i":40,"j":11,"v":2},{"i":40,"j":12,"v":4},{"i":40,"j":13,"v":5},{"i":40,"j":14,"v":1},{"i":40,"j":15,"v":4},{"i":40,"j":16,"v":1},{"i":40,"j":17,"v":1},{"i":40,"j":18,"v":2},{"i":40,"j":19,"v":2},{"i":40,"j":20,"v":1},{"i":40,"j":21,"v":4},{"i":40,"j":22,"v":1},{"i":40,"j":23,"v":4},{"i":40,"j":24,"v":1},{"i":40,"j":25,"v":1},{"i":40,"j":26,"v":2},{"i":40,"j":27,"v":1},{"i":40,"j":28,"v":1},{"i":40,"j":29,"v":4},{"i":40,"j":31,"v":5},{"i":40,"j":32,"v":4},{"i":40,"j":33,"v":4},{"i":40,"j":34,"v":3},{"i":40,"j":35,"v":1},{"i":40,"j":36,"v":4},{"i":40,"j":37,"v":4},{"i":40,"j":38,"v":4},{"i":40,"j":39,"v":4},{"i":40,"j":40,"v":7},{"i":40,"j":41,"v":2},{"i":40,"j":43,"v":1},{"i":40,"j":44,"v":6},{"i":40,"j":46,"v":2},{"i":40,"j":47,"v":4},{"i":40,"j":48,"v":5},
{"i":41,"j":0,"v":4},{"i":41,"j":1,"v":3},{"i":41,"j":2,"v":4},{"i":41,"j":3,"v":3},{"i":41,"j":5,"v":5},{"i":41,"j":6,"v":5},{"i":41,"j":7,"v":5},{"i":41,"j":8,"v":5},{"i":41,"j":9,"v":3},{"i":41,"j":10,"v":3},{"i":41,"j":11,"v":4},{"i":41,"j":12,"v":4},{"i":41,"j":13,"v":4},{"i":41,"j":14,"v":3},{"i":41,"j":15,"v":5},{"i":41,"j":16,"v":1},{"i":41,"j":17,"v":2},{"i":41,"j":19,"v":4},{"i":41,"j":20,"v":1},{"i":41,"j":21,"v":4},{"i":41,"j":22,"v":1},{"i":41,"j":23,"v":3},{"i":41,"j":24,"v":3},{"i":41,"j":25,"v":1},{"i":41,"j":26,"v":1},{"i":41,"j":27,"v":1},{"i":41,"j":29,"v":3},{"i":41,"j":30,"v":2},{"i":41,"j":31,"v":3},{"i":41,"j":32,"v":3},{"i":41,"j":33,"v":2},{"i":41,"j":34,"v":4},{"i":41,"j":35,"v":1},{"i":41,"j":36,"v":1},{"i":41,"j":37,"v":3},{"i":41,"j":38,"v":4},{"i":41,"j":39,"v":2},{"i":41,"j":40,"v":2},{"i":41,"j":41,"v":3},{"i":41,"j":42,"v":2},{"i":41,"j":43,"v":1},{"i":41,"j":45,"v":1},{"i":41,"j":46,"v":3},{"i":41,"j":47,"v":4},
{"i":42,"j":0,"v":1},{"i":42,"j":8,"v":2},{"i":42,"j":9,"v":1},{"i":42,"j":11,"v":2},{"i":42,"j":12,"v":3},{"i":42,"j":14,"v":4},{"i":42,"j":15,"v":4},{"i":42,"j":16,"v":2},{"i":42,"j":19,"v":4},{"i":42,"j":20,"v":4},{"i":42,"j":21,"v":4},{"i":42,"j":22,"v":4},{"i":42,"j":23,"v":1},{"i":42,"j":24,"v":4},{"i":42,"j":25,"v":4},{"i":42,"j":27,"v":3},{"i":42,"j":29,"v":4},{"i":42,"j":30,"v":2},{"i":42,"j":31,"v":4},{"i":42,"j":32,"v":2},{"i":42,"j":33,"v":3},{"i":42,"j":35,"v":1},{"i":42,"j":36,"v":1},{"i":42,"j":37,"v":1},{"i":42,"j":38,"v":4},{"i":42,"j":39,"v":4},{"i":42,"j":41,"v":4},{"i":42,"j":43,"v":2},{"i":42,"j":45,"v":2},{"i":42,"j":47,"v":1},{"i":42,"j":49,"v":3},
{"i":43,"j":5,"v":1},{"i":43,"j":7,"v":1},{"i":43,"j":8,"v":1},{"i":43,"j":9,"v":1},{"i":43,"j":11,"v":2},{"i":43,"j":12,"v":1},{"i":43,"j":13,"v":1},{"i":43,"j":15,"v":2},{"i":43,"j":21,"v":1},{"i":43,"j":31,"v":1},{"i":43,"j":32,"v":1},{"i":43,"j":33,"v":1},{"i":43,"j":34,"v":3},{"i":43,"j":37,"v":4},{"i":43,"j":38,"v":4},{"i":43,"j":39,"v":2},{"i":43,"j":40,"v":1},{"i":43,"j":41,"v":1},{"i":43,"j":46,"v":2},{"i":43,"j":47,"v":5},
{"i":44,"j":0,"v":4},{"i":44,"j":1,"v":2},{"i":44,"j":2,"v":2},{"i":44,"j":5,"v":1},{"i":44,"j":7,"v":1},{"i":44,"j":8,"v":1},{"i":44,"j":9,"v":1},{"i":44,"j":11,"v":1},{"i":44,"j":12,"v":4},{"i":44,"j":13,"v":1},{"i":44,"j":14,"v":3},{"i":44,"j":15,"v":4},{"i":44,"j":16,"v":2},{"i":44,"j":17,"v":2},{"i":44,"j":19,"v":1},{"i":44,"j":21,"v":4},{"i":44,"j":26,"v":1},{"i":44,"j":29,"v":1},{"i":44,"j":31,"v":1},{"i":44,"j":32,"v":3},{"i":44,"j":33,"v":1},{"i":44,"j":34,"v":3},{"i":44,"j":36,"v":1},{"i":44,"j":37,"v":2},{"i":44,"j":38,"v":2},{"i":44,"j":39,"v":1},{"i":44,"j":40,"v":1},{"i":44,"j":41,"v":2},{"i":44,"j":42,"v":1},{"i":44,"j":46,"v":3},{"i":44,"j":47,"v":3},
{"i":45,"j":0,"v":4},{"i":45,"j":8,"v":3},{"i":45,"j":12,"v":1},{"i":45,"j":13,"v":4},{"i":45,"j":38,"v":2},{"i":45,"j":40,"v":4},{"i":45,"j":44,"v":4},{"i":45,"j":48,"v":4},
{"i":46,"j":0,"v":1},{"i":46,"j":1,"v":2},{"i":46,"j":2,"v":4},{"i":46,"j":3,"v":4},{"i":46,"j":4,"v":2},{"i":46,"j":5,"v":3},{"i":46,"j":6,"v":1},{"i":46,"j":7,"v":2},{"i":46,"j":8,"v":3},{"i":46,"j":9,"v":2},{"i":46,"j":10,"v":2},{"i":46,"j":11,"v":1},{"i":46,"j":12,"v":1},{"i":46,"j":13,"v":1},{"i":46,"j":14,"v":1},{"i":46,"j":15,"v":2},{"i":46,"j":16,"v":1},{"i":46,"j":17,"v":1},{"i":46,"j":18,"v":1},{"i":46,"j":19,"v":1},{"i":46,"j":20,"v":1},{"i":46,"j":21,"v":3},{"i":46,"j":22,"v":1},{"i":46,"j":23,"v":3},{"i":46,"j":24,"v":1},{"i":46,"j":25,"v":1},{"i":46,"j":28,"v":1},{"i":46,"j":29,"v":2},{"i":46,"j":30,"v":2},{"i":46,"j":31,"v":2},{"i":46,"j":32,"v":4},{"i":46,"j":33,"v":1},{"i":46,"j":34,"v":1},{"i":46,"j":36,"v":1},{"i":46,"j":38,"v":3},{"i":46,"j":39,"v":3},{"i":46,"j":40,"v":2},{"i":46,"j":41,"v":1},{"i":46,"j":42,"v":1},{"i":46,"j":46,"v":1},
{"i":47,"j":0,"v":1},{"i":47,"j":1,"v":1},{"i":47,"j":2,"v":1},{"i":47,"j":8,"v":1},{"i":47,"j":9,"v":1},{"i":47,"j":12,"v":4},{"i":47,"j":14,"v":3},{"i":47,"j":15,"v":1},{"i":47,"j":16,"v":2},{"i":47,"j":17,"v":1},{"i":47,"j":19,"v":2},{"i":47,"j":20,"v":2},{"i":47,"j":21,"v":4},{"i":47,"j":22,"v":1},{"i":47,"j":23,"v":1},{"i":47,"j":25,"v":1},{"i":47,"j":29,"v":1},{"i":47,"j":31,"v":3},{"i":47,"j":32,"v":2},{"i":47,"j":33,"v":1},{"i":47,"j":38,"v":4},{"i":47,"j":39,"v":4},{"i":47,"j":43,"v":1},{"i":47,"j":45,"v":1},
{"i":48,"j":0,"v":3},{"i":48,"j":1,"v":1},{"i":48,"j":2,"v":2},{"i":48,"j":3,"v":2},{"i":48,"j":5,"v":1},{"i":48,"j":7,"v":4},{"i":48,"j":8,"v":2},{"i":48,"j":12,"v":2},{"i":48,"j":13,"v":2},{"i":48,"j":14,"v":4},{"i":48,"j":15,"v":3},{"i":48,"j":17,"v":3},{"i":48,"j":19,"v":2},{"i":48,"j":20,"v":1},{"i":48,"j":21,"v":2},{"i":48,"j":22,"v":1},{"i":48,"j":23,"v":1},{"i":48,"j":26,"v":1},{"i":48,"j":29,"v":1},{"i":48,"j":30,"v":1},{"i":48,"j":31,"v":1},{"i":48,"j":32,"v":1},{"i":48,"j":34,"v":1},{"i":48,"j":37,"v":1},{"i":48,"j":38,"v":3},{"i":48,"j":42,"v":3},{"i":48,"j":46,"v":1},{"i":48,"j":47,"v":1},{"i":48,"j":48,"v":1},
{"i":49,"j":0,"v":2},{"i":49,"j":1,"v":1},{"i":49,"j":2,"v":2},{"i":49,"j":5,"v":1},{"i":49,"j":7,"v":1},{"i":49,"j":8,"v":1},{"i":49,"j":9,"v":1},{"i":49,"j":11,"v":1},{"i":49,"j":12,"v":2},{"i":49,"j":13,"v":1},{"i":49,"j":14,"v":3},{"i":49,"j":15,"v":2},{"i":49,"j":17,"v":2},{"i":49,"j":20,"v":1},{"i":49,"j":21,"v":3},{"i":49,"j":22,"v":1},{"i":49,"j":29,"v":1},{"i":49,"j":32,"v":1},{"i":49,"j":33,"v":1},{"i":49,"j":34,"v":3},{"i":49,"j":37,"v":1},{"i":49,"j":38,"v":1},{"i":49,"j":39,"v":1},{"i":49,"j":41,"v":2},{"i":49,"j":42,"v":2},{"i":49,"j":46,"v":1},{"i":49,"j":47,"v":1}
]},"transform":[{"lookup":"i","from":{"data":{"name":"models"},"key":"i","fields":["model","h"]}},{"lookup":"j","from":{"data":{"name":"terms"},"key":"j","fields":["term","g"]}}],"concat":[
{"transform":[{"filter":"datum.g==1&&datum.h==1"}],"width":99,"height":253,"mark":"rect","encoding":{"x":{"field":"j","type":"ordinal","scale":{"domain":[0,1,2,3,4]},"axis":{"orient":"top","title":"1. Epidemic","labels":false}},"y":{"field":"i","type":"ordinal","scale":{"domain":[0,1,2,3,4,5,6,7,8,9,10]},"axis":{"orient":"left","title":"1.Machine Learning","labels":false}},"color":{"field":"v","type":"ordinal"}}},
{"transform":[{"filter":"datum.g==2&&datum.h==1"}],"width":178,"height":253,"mark":"rect","encoding":{"x":{"field":"j","type":"ordinal","scale":{"domain":[5,6,7,8,9,10,11,12,13]},"axis":{"orient":"top","title":"2. Detection","labels":false}},"y":{"field":"i","type":"ordinal","scale":{"domain":[0,1,2,3,4,5,6,7,8,9,10]},"axis":null},"color":{"field":"v","type":"ordinal"}}},
{"transform":[{"filter":"datum.g==3&&datum.h==1"}],"width":99,"height":253,"mark":"rect","encoding":{"x":{"field":"j","type":"ordinal","scale":{"domain":[14,15,16,17,18]},"axis":{"orient":"top","title":"3. Impact","labels":false}},"y":{"field":"i","type":"ordinal","scale":{"domain":[0,1,2,3,4,5,6,7,8,9,10]},"axis":null},"color":{"field":"v","type":"ordinal"}}},
{"transform":[{"filter":"datum.g==4&&datum.h==1"}],"width":198,"height":253,"mark":"rect","encoding":{"x":{"field":"j","type":"ordinal","scale":{"domain":[19,20,21,22,23,24,25,26,27,28]},"axis":{"orient":"top","title":"4. Mental health","labels":false}},"y":{"field":"i","type":"ordinal","scale":{"domain":[0,1,2,3,4,5,6,7,8,9,10]},"axis":null},"color":{"field":"v","type":"ordinal"}}},
{"transform":[{"filter":"datum.g==5&&datum.h==1"}],"width":178,"height":253,"mark":"rect","encoding":{"x":{"field":"j","type":"ordinal","scale":{"domain":[29,30,31,32,33,34,35,36,37]},"axis":{"orient":"top","title":"5. NPI","labels":false}},"y":{"field":"i","type":"ordinal","scale":{"domain":[0,1,2,3,4,5,6,7,8,9,10]},"axis":null},"color":{"field":"v","type":"ordinal"}}},
{"transform":[{"filter":"datum.g==6&&datum.h==1"}],"width":40,"height":253,"mark":"rect","encoding":{"x":{"field":"j","type":"ordinal","scale":{"domain":[38,39]},"axis":{"orient":"top","title":"6. Vaccine","labels":false}},"y":{"field":"i","type":"ordinal","scale":{"domain":[0,1,2,3,4,5,6,7,8,9,10]},"axis":null},"color":{"field":"v","type":"ordinal"}}},
{"transform":[{"filter":"datum.g==7&&datum.h==1"}],"width":198,"height":253,"mark":"rect","encoding":{"x":{"field":"j","type":"ordinal","scale":{"domain":[40,41,42,43,44,45,46,47,48,49]},"axis":{"orient":"top","title":"7. Other","labels":false}},"y":{"field":"model","type":"nominal","scale":{"domain":["regression model","machine learning","sentiment analysis","SVM","transfer learning","classification model","random forest","decision tree","NLP","cluster analysis","artificial neural network"]},"axis":{"orient":"right","title":null}},"color":{"field":"v","type":"ordinal"}}},
{"transform":[{"filter":"datum.g==1&&datum.h==2"}],"width":99,"height":184,"mark":"rect","encoding":{"x":{"field":"j","type":"ordinal","scale":{"domain":[0,1,2,3,4]},"axis":null},"y":{"field":"i","type":"ordinal","scale":{"domain":[11,12,13,14,15,16,17,18]},"axis":{"orient":"left","title":"2.Deep Learning","labels":false}},"color":{"field":"v","type":"ordinal"}}},
{"transform":[{"filter":"datum.g==2&&datum.h==2"}],"width":178,"height":184,"mark":"rect","encoding":{"x":{"field":"j","type":"ordinal","scale":{"domain":[5,6,7,8,9,10,11,12,13]},"axis":null},"y":{"field":"i","type":"ordinal","scale":{"domain":[11,12,13,14,15,16,17,18]},"axis":null},"color":{"field":"v","type":"ordinal"}}},
{"transform":[{"filter":"datum.g==3&&datum.h==2"}],"width":99,"height":184,"mark":"rect","encoding":{"x":{"field":"j","type":"ordinal","scale":{"domain":[14,15,16,17,18]},"axis":null},"y":{"field":"i","type":"ordinal","scale":{"domain":[11,12,13,14,15,16,17,18]},"axis":null},"color":{"field":"v","type":"ordinal"}}},
{"transform":[{"filter":"datum.g==4&&datum.h==2"}],"width":198,"height":184,"mark":"rect","encoding":{"x":{"field":"j","type":"ordinal","scale":{"domain":[19,20,21,22,23,24,25,26,27,28]},"axis":null},"y":{"field":"i","type":"ordinal","scale":{"domain":[11,12,13,14,15,16,17,18]},"axis":null},"color":{"field":"v","type":"ordinal"}}},
{"transform":[{"filter":"datum.g==5&&datum.h==2"}],"width":178,"height":184,"mark":"rect","encoding":{"x":{"field":"j","type":"ordinal","scale":{"domain":[29,30,31,32,33,34,35,36,37]},"axis":null},"y":{"field":"i","type":"ordinal","scale":{"domain":[11,12,13,14,15,16,17,18]},"axis":null},"color":{"field":"v","type":"ordinal"}}},
{"transform":[{"filter":"datum.g==6&&datum.h==2"}],"width":40,"height":184,"mark":"rect","encoding":{"x":{"field":"j","type":"ordinal","scale":{"domain":[38,39]},"axis":null},"y":{"field":"i","type":"ordinal","scale":{"domain":[11,12,13,14,15,16,17,18]},"axis":null},"color":{"field":"v","type":"ordinal"}}},
{"transform":[{"filter":"datum.g==7&&datum.h==2"}],"width":198,"height":184,"mark":"rect","encoding":{"x":{"field":"j","type":"ordinal","scale":{"domain":[40,41,42,43,44,45,46,47,48,49]},"axis":null},"y":{"field":"model","type":"nominal","scale":{"domain":["deep learning","CNN","neural network","resnet","LSTM","vgg","DNN","densenet"]},"axis":{"orient":"right","title":null}},"color":{"field":"v","type":"ordinal"}}},
{"transform":[{"filter":"datum.g==1&&datum.h==3"}],"width":99,"height":345,"mark":"rect","encoding":{"x":{"field":"j","type":"ordinal","scale":{"domain":[0,1,2,3,4]},"axis":null},"y":{"field":"i","type":"ordinal","scale":{"domain":[19,20,21,22,23,24,25,26,27,28,29,30,31,32,33]},"axis":{"orient":"left","title":"3.Statistical","labels":false}},"color":{"field":"v","type":"ordinal"}}},
{"transform":[{"filter":"datum.g==2&&datum.h==3"}],"width":178,"height":345,"mark":"rect","encoding":{"x":{"field":"j","type":"ordinal","scale":{"domain":[5,6,7,8,9,10,11,12,13]},"axis":null},"y":{"field":"i","type":"ordinal","scale":{"domain":[19,20,21,22,23,24,25,26,27,28,29,30,31,32,33]},"axis":null},"color":{"field":"v","type":"ordinal"}}},
{"transform":[{"filter":"datum.g==3&&datum.h==3"}],"width":99,"height":345,"mark":"rect","encoding":{"x":{"field":"j","type":"ordinal","scale":{"domain":[14,15,16,17,18]},"axis":null},"y":{"field":"i","type":"ordinal","scale":{"domain":[19,20,21,22,23,24,25,26,27,28,29,30,31,32,33]},"axis":null},"color":{"field":"v","type":"ordinal"}}},
{"transform":[{"filter":"datum.g==4&&datum.h==3"}],"width":198,"height":345,"mark":"rect","encoding":{"x":{"field":"j","type":"ordinal","scale":{"domain":[19,20,21,22,23,24,25,26,27,28]},"axis":null},"y":{"field":"i","type":"ordinal","scale":{"domain":[19,20,21,22,23,24,25,26,27,28,29,30,31,32,33]},"axis":null},"color":{"field":"v","type":"ordinal"}}},
{"transform":[{"filter":"datum.g==5&&datum.h==3"}],"width":178,"height":345,"mark":"rect","encoding":{"x":{"field":"j","type":"ordinal","scale":{"domain":[29,30,31,32,33,34,35,36,37]},"axis":null},"y":{"field":"i","type":"ordinal","scale":{"domain":[19,20,21,22,23,24,25,26,27,28,29,30,31,32,33]},"axis":null},"color":{"field":"v","type":"ordinal"}}},
{"transform":[{"filter":"datum.g==6&&datum.h==3"}],"width":40,"height":345,"mark":"rect","encoding":{"x":{"field":"j","type":"ordinal","scale":{"domain":[38,39]},"axis":null},"y":{"field":"i","type":"ordinal","scale":{"domain":[19,20,21,22,23,24,25,26,27,28,29,30,31,32,33]},"axis":null},"color":{"field":"v","type":"ordinal"}}},
{"transform":[{"filter":"datum.g==7&&datum.h==3"}],"width":198,"height":345,"mark":"rect","encoding":{"x":{"field":"j","type":"ordinal","scale":{"domain":[40,41,42,43,44,45,46,47,48,49]},"axis":null},"y":{"field":"model","type":"nominal","scale":{"domain":["linear regression","multivariate statistics","logistic regression","statistical model","bayesian","mathematical model","cox regression","univariate analysis","ARIMA","poisson regression","time series analysis","linear model","bivariate analysis","multiple linear regression","multivariate regression"]},"axis":{"orient":"right","title":null}},"color":{"field":"v","type":"ordinal"}}},
{"transform":[{"filter":"datum.g==1&&datum.h==4"}],"width":99,"height":138,"mark":"rect","encoding":{"x":{"field":"j","type":"ordinal","scale":{"domain":[0,1,2,3,4]},"axis":null},"y":{"field":"i","type":"ordinal","scale":{"domain":[34,35,36,37,38,39]},"axis":{"orient":"left","title":"4.Epidemic","labels":false}},"color":{"field":"v","type":"ordinal"}}},
{"transform":[{"filter":"datum.g==2&&datum.h==4"}],"width":178,"height":138,"mark":"rect","encoding":{"x":{"field":"j","type":"ordinal","scale":{"domain":[5,6,7,8,9,10,11,12,13]},"axis":null},"y":{"field":"i","type":"ordinal","scale":{"domain":[34,35,36,37,38,39]},"axis":null},"color":{"field":"v","type":"ordinal"}}},
{"transform":[{"filter":"datum.g==3&&datum.h==4"}],"width":99,"height":138,"mark":"rect","encoding":{"x":{"field":"j","type":"ordinal","scale":{"domain":[14,15,16,17,18]},"axis":null},"y":{"field":"i","type":"ordinal","scale":{"domain":[34,35,36,37,38,39]},"axis":null},"color":{"field":"v","type":"ordinal"}}},
{"transform":[{"filter":"datum.g==4&&datum.h==4"}],"width":198,"height":138,"mark":"rect","encoding":{"x":{"field":"j","type":"ordinal","scale":{"domain":[19,20,21,22,23,24,25,26,27,28]},"axis":null},"y":{"field":"i","type":"ordinal","scale":{"domain":[34,35,36,37,38,39]},"axis":null},"color":{"field":"v","type":"ordinal"}}},
{"transform":[{"filter":"datum.g==5&&datum.h==4"}],"width":178,"height":138,"mark":"rect","encoding":{"x":{"field":"j","type":"ordinal","scale":{"domain":[29,30,31,32,33,34,35,36,37]},"axis":null},"y":{"field":"i","type":"ordinal","scale":{"domain":[34,35,36,37,38,39]},"axis":null},"color":{"field":"v","type":"ordinal"}}},
{"transform":[{"filter":"datum.g==6&&datum.h==4"}],"width":40,"height":138,"mark":"rect","encoding":{"x":{"field":"j","type":"ordinal","scale":{"domain":[38,39]},"axis":null},"y":{"field":"i","type":"ordinal","scale":{"domain":[34,35,36,37,38,39]},"axis":null},"color":{"field":"v","type":"ordinal"}}},
{"transform":[{"filter":"datum.g==7&&datum.h==4"}],"width":198,"height":138,"mark":"rect","encoding":{"x":{"field":"j","type":"ordinal","scale":{"domain":[40,41,42,43,44,45,46,47,48,49]},"axis":null},"y":{"field":"model","type":"nominal","scale":{"domain":["SEIR","SIR","transmission model","epidemiological model","predictive model","forecasting model"]},"axis":{"orient":"right","title":null}},"color":{"field":"v","type":"ordinal"}}},
{"transform":[{"filter":"datum.g==1&&datum.h==5"}],"width":99,"height":230,"mark":"rect","encoding":{"x":{"field":"term","type":"nominal","scale":{"domain":["second wave","spread prediction","case prediction","mortality prediction","reproduction number"]},"axis":{"labelAngle":-90,"title":null}},"y":{"field":"i","type":"ordinal","scale":{"domain":[40,41,42,43,44,45,46,47,48,49]},"axis":{"orient":"left","title":"5.Other","labels":false}},"color":{"field":"v","type":"ordinal"}}},
{"transform":[{"filter":"datum.g==2&&datum.h==5"}],"width":178,"height":230,"mark":"rect","encoding":{"x":{"field":"term","type":"nominal","scale":{"domain":["X-ray","CT","classification","treatment","testing","prognosis","telehealth","prevention","screening"]},"axis":{"labelAngle":-90,"title":null}},"y":{"field":"i","type":"ordinal","scale":{"domain":[40,41,42,43,44,45,46,47,48,49]},"axis":null},"color":{"field":"v","type":"ordinal"}}},
{"transform":[{"filter":"datum.g==3&&datum.h==5"}],"width":99,"height":230,"mark":"rect","encoding":{"x":{"field":"term","type":"nominal","scale":{"domain":["social media","education","children","twitter","hospitalization"]},"axis":{"labelAngle":-90,"title":null}},"y":{"field":"i","type":"ordinal","scale":{"domain":[40,41,42,43,44,45,46,47,48,49]},"axis":null},"color":{"field":"v","type":"ordinal"}}},
{"transform":[{"filter":"datum.g==4&&datum.h==5"}],"width":198,"height":230,"mark":"rect","encoding":{"x":{"field":"term","type":"nominal","scale":{"domain":["mental health","anxiety","public health","depression","cancer","stress","distress","diabetes","sleep","obesity"]},"axis":{"labelAngle":-90,"title":null}},"y":{"field":"i","type":"ordinal","scale":{"domain":[40,41,42,43,44,45,46,47,48,49]},"axis":null},"color":{"field":"v","type":"ordinal"}}},
{"transform":[{"filter":"datum.g==5&&datum.h==5"}],"width":178,"height":230,"mark":"rect","encoding":{"x":{"field":"term","type":"nominal","scale":{"domain":["lockdown","risk factor","social distancing","policy","quarantine","monitoring","physical activity","isolation","contact tracing"]},"axis":{"labelAngle":-90,"title":null}},"y":{"field":"i","type":"ordinal","scale":{"domain":[40,41,42,43,44,45,46,47,48,49]},"axis":null},"color":{"field":"v","type":"ordinal"}}},
{"transform":[{"filter":"datum.g==6&&datum.h==5"}],"width":40,"height":230,"mark":"rect","encoding":{"x":{"field":"term","type":"nominal","scale":{"domain":["vaccine","vaccination"]},"axis":{"labelAngle":-90,"title":null}},"y":{"field":"i","type":"ordinal","scale":{"domain":[40,41,42,43,44,45,46,47,48,49]},"axis":null},"color":{"field":"v","type":"ordinal"}}},
{"transform":[{"filter":"datum.g==7&&datum.h==5"}],"width":198,"height":230,"mark":"rect","encoding":{"x":{"field":"term","type":"nominal","scale":{"domain":["simulation","resilience","sentiment analysis","healthcare worker","molecular dynamics","older adult","surveillance","blockchain","molecular docking","nurse"]},"axis":{"labelAngle":-90,"title":null}},"y":{"field":"model","type":"nominal","scale":{"domain":["simulation","artificial intelligence","structural equation model","blockchain","big data","molecular dynamic","decision making","health belief model","data mining","data analytics"]},"axis":{"orient":"right","title":null}},"color":{"field":"v","type":"ordinal"}}}
]}
